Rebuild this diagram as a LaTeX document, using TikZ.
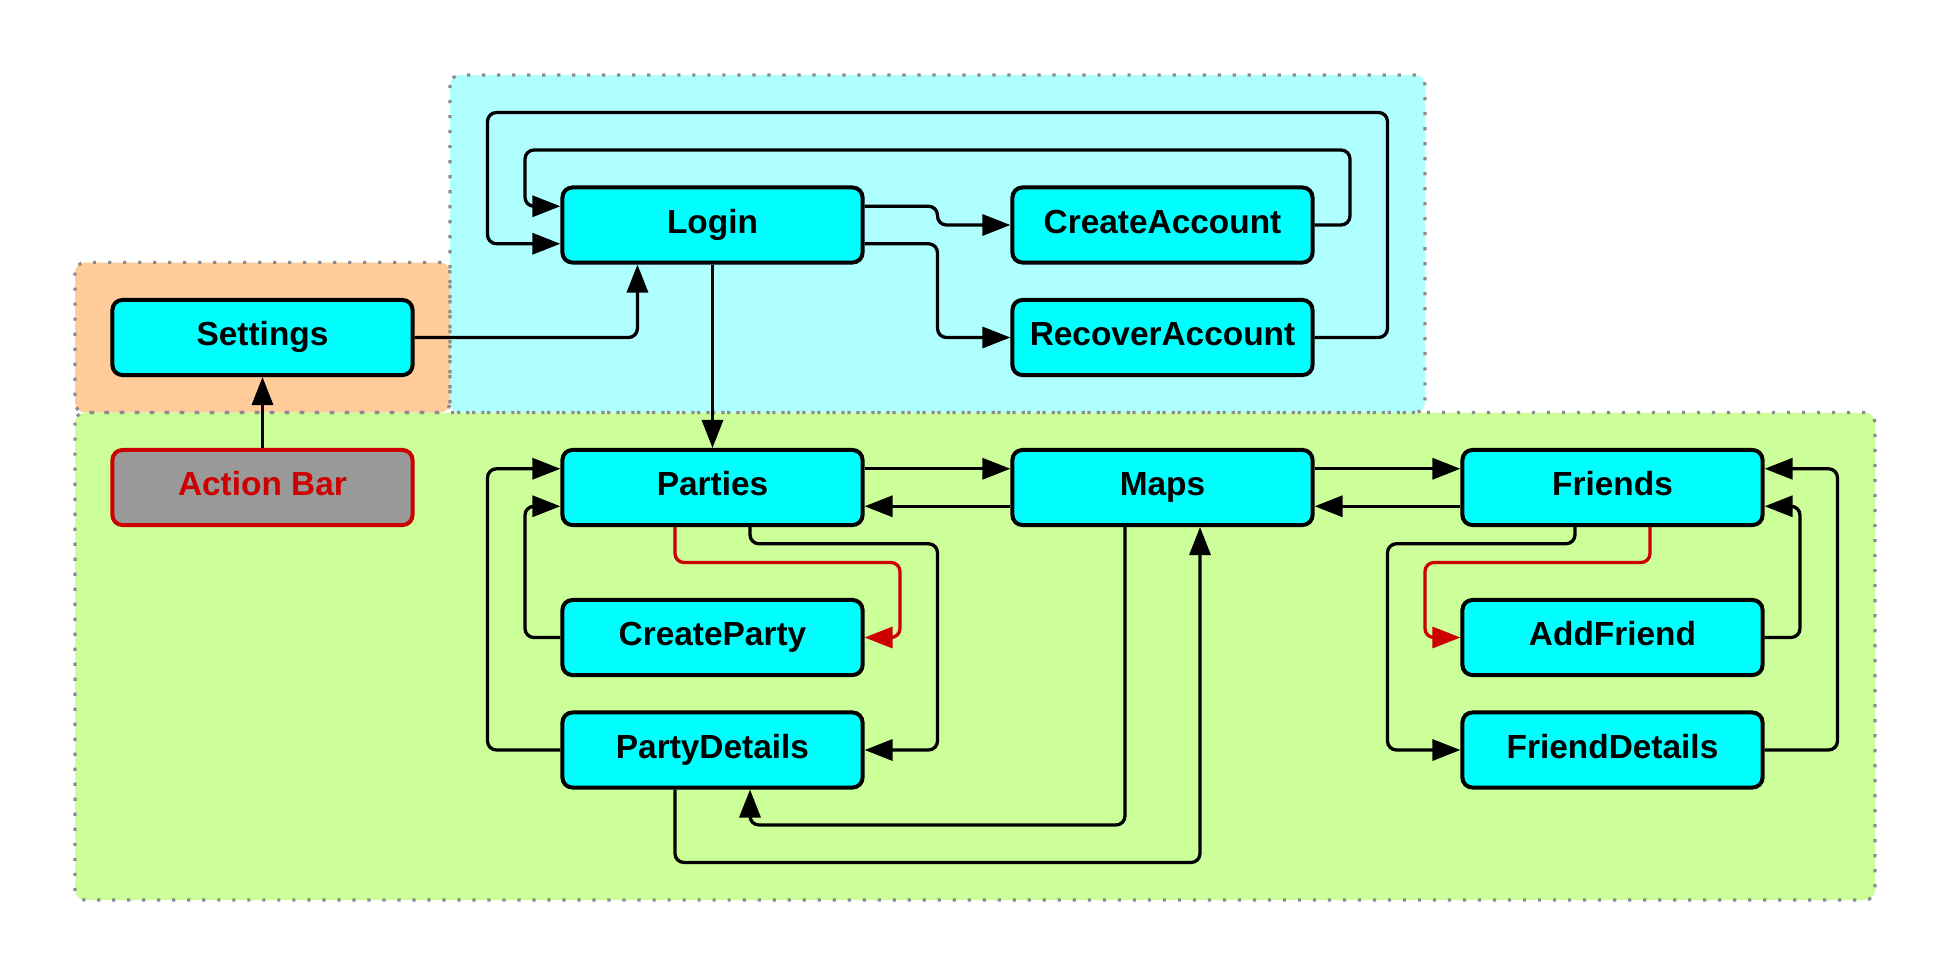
\documentclass[tikz,border=0pt]{standalone}
\usepackage{fontspec}
\setmainfont{Liberation Sans}
\usetikzlibrary{arrows.meta}
\definecolor{boxcyan}{HTML}{00FFFF}
\definecolor{regcyan}{HTML}{AFFFFF}
\definecolor{regorange}{HTML}{FFCC99}
\definecolor{reggreen}{HTML}{CCFF99}
\definecolor{regborder}{HTML}{8C8C8C}
\definecolor{abgray}{HTML}{999999}
\definecolor{abred}{HTML}{CC0000}
\tikzset{
  region/.style={draw=regborder, line width=0.32mm, dash pattern=on 0.32mm off 1.18mm, rounded corners=1mm},
  screen/.style={draw=black, fill=boxcyan, line width=0.4mm, rounded corners=1mm,
    minimum width=3cm, minimum height=0.75cm, inner sep=0pt,
    text height=6.8pt, text depth=2.1pt,
    font=\bfseries\fontsize{9.5pt}{11pt}\selectfont},
  actionbox/.style={screen, draw=abred, fill=abgray, text=abred},
  conn/.style={draw=black, line width=0.33mm, rounded corners=0.9mm,
    -{Triangle[length=2.8mm,width=2.1mm]}},
  redconn/.style={conn, draw=abred, color=abred},
}
\begin{document}
\begin{tikzpicture}[x=0.01cm, y=-0.01cm]
\useasboundingbox (0,0) rectangle (1950,975);
% regions
\fill[regcyan, rounded corners=1mm] (450,75) rectangle (1425,412.5);
\fill[regorange, rounded corners=1mm] (75,262.5) rectangle (450,412.5);
\fill[reggreen, rounded corners=1mm] (75,412.5) rectangle (1875,900);
\draw[region] (450,75) rectangle (1425,412.5);
\draw[region] (75,262.5) rectangle (450,412.5);
\draw[region] (75,412.5) rectangle (1875,900);
% nodes
\node[screen] (settings) at (262.5,337.5) {Settings};
\node[screen] (login) at (712.5,225) {Login};
\node[screen] (createaccount) at (1162.5,225) {CreateAccount};
\node[screen] (recoveraccount) at (1162.5,337.5) {RecoverAccount};
\node[actionbox] (actionbar) at (262.5,487.5) {Action Bar};
\node[screen] (parties) at (712.5,487.5) {Parties};
\node[screen] (maps) at (1162.5,487.5) {Maps};
\node[screen] (friends) at (1612.5,487.5) {Friends};
\node[screen] (createparty) at (712.5,637.5) {CreateParty};
\node[screen] (addfriend) at (1612.5,637.5) {AddFriend};
\node[screen] (partydetails) at (712.5,750) {PartyDetails};
\node[screen] (frienddetails) at (1612.5,750) {FriendDetails};
% connectors
\draw[conn] (actionbar.north) -- (settings.south);
\draw[conn] (settings.east) -| ([xshift=-7.5mm]login.south);
\draw[conn] (login.south) -- (parties.north);
\draw[conn] ([yshift=1.875mm]login.east) -- (937.5,206.25) -- (937.5,225) -- (createaccount.west);
\draw[conn] ([yshift=-1.875mm]login.east) -- (937.5,243.75) -- (937.5,337.5) -- (recoveraccount.west);
\draw[conn] (createaccount.east) -- (1350,225) -- (1350,150) -- (525,150) -- (525,206.25) -- ([yshift=1.875mm]login.west);
\draw[conn] (recoveraccount.east) -- (1387.5,337.5) -- (1387.5,112.5) -- (487.5,112.5) -- (487.5,243.75) -- ([yshift=-1.875mm]login.west);
\draw[conn] ([yshift=1.875mm]parties.east) -- ([yshift=1.875mm]maps.west);
\draw[conn] ([yshift=-1.875mm]maps.west) -- ([yshift=-1.875mm]parties.east);
\draw[conn] ([yshift=1.875mm]maps.east) -- ([yshift=1.875mm]friends.west);
\draw[conn] ([yshift=-1.875mm]friends.west) -- ([yshift=-1.875mm]maps.east);
\draw[conn] (createparty.west) -- (525,637.5) -- (525,506.25) -- ([yshift=-1.875mm]parties.west);
\draw[conn] (partydetails.west) -- (487.5,750) -- (487.5,468.75) -- ([yshift=1.875mm]parties.west);
\draw[redconn] ([xshift=-3.75mm]parties.south) -- (675,562.5) -- (900,562.5) -- (900,637.5) -- (createparty.east);
\draw[conn] ([xshift=3.75mm]parties.south) -- (750,543.75) -- (937.5,543.75) -- (937.5,750) -- (partydetails.east);
\draw[conn] ([xshift=-3.75mm]partydetails.south) -- (675,862.5) -- (1200,862.5) -- ([xshift=3.75mm]maps.south);
\draw[conn] ([xshift=-3.75mm]maps.south) -- (1125,825) -- (750,825) -- ([xshift=3.75mm]partydetails.south);
\draw[conn] ([xshift=-3.75mm]friends.south) -- (1575,543.75) -- (1387.5,543.75) -- (1387.5,750) -- (frienddetails.west);
\draw[redconn] ([xshift=3.75mm]friends.south) -- (1650,562.5) -- (1425,562.5) -- (1425,637.5) -- (addfriend.west);
\draw[conn] (addfriend.east) -- (1800,637.5) -- (1800,506.25) -- ([yshift=-1.875mm]friends.east);
\draw[conn] (frienddetails.east) -- (1837.5,750) -- (1837.5,468.75) -- ([yshift=1.875mm]friends.east);
\end{tikzpicture}
\end{document}
